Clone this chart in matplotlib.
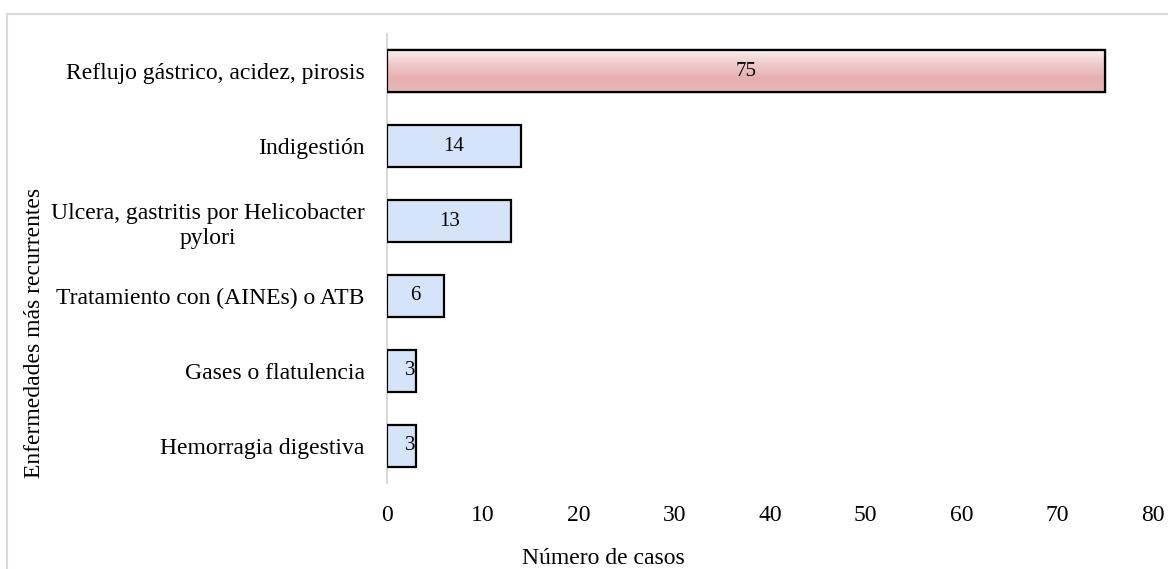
import matplotlib
matplotlib.use("Agg")
import matplotlib.pyplot as plt
import numpy as np
from matplotlib.patches import Rectangle
from matplotlib.colors import LinearSegmentedColormap

categories = ["Reflujo gástrico, acidez, pirosis", "Indigestión",
              "Ulcera, gastritis por Helicobacter\npylori",
              "Tratamiento con (AINEs) o ATB", "Gases o flatulencia",
              "Hemorragia digestiva"]
values = [75, 14, 13, 6, 3, 3]
xticks = [0, 10, 20, 30, 40, 50, 60, 70, 80]

plt.rcParams['font.family'] = ['Liberation Serif', 'DejaVu Serif']

W, H = 1168, 569
fig = plt.figure(figsize=(W/100, H/100), dpi=100)
ax = fig.add_axes([387/W, 1-483/H, (1153-387)/W, (483-34)/H])

n = len(categories)
ypos = np.arange(n)[::-1]
bh = 0.56
colors = ["#e8b4b4"] + ["#d6e4fa"] * (n-1)
bars = ax.barh(ypos, values, height=bh, color=colors, edgecolor="black", linewidth=1.6, zorder=3)

# gradient on the first bar
cmap = LinearSegmentedColormap.from_list("g", ["#f9eeee", "#efcaca", "#e6b0b0", "#e8b6b6"])
grad = np.linspace(0, 1, 100).reshape(-1, 1)
b0 = bars[0]
im = ax.imshow(grad, cmap=cmap, aspect="auto",
               extent=[0, values[0], ypos[0]-bh/2, ypos[0]+bh/2], origin="upper", zorder=3.5)
im.set_clip_path(b0)
ax.add_patch(Rectangle((0, ypos[0]-bh/2), values[0], bh, fill=False, edgecolor="black", linewidth=1.6, zorder=4))

for y, v in zip(ypos, values):
    xt = v/2 if v > 4 else v*0.8
    ax.text(xt, y, str(v), ha="center", va="center", fontsize=15, zorder=5)

ax.set_xlim(0, 80)
ax.set_ylim(-0.5, n-0.5)
ax.set_xticks(xticks)
ax.set_xticklabels([str(t) for t in xticks], fontsize=17)
ax.set_yticks(ypos)
ax.set_yticklabels(categories, fontsize=17, multialignment="center", linespacing=1.25)
ax.tick_params(length=0)
ax.tick_params(axis="y", pad=16)
ax.tick_params(axis="x", pad=16)
for s in ["top", "right", "bottom"]:
    ax.spines[s].set_visible(False)
ax.spines["left"].set_color("#d9d9d9")
ax.spines["left"].set_linewidth(1.5)

fig.text(603/W, 1-559/H, "Número de casos", fontsize=17, ha="center", va="center")
fig.text(35/W, 1-333/H, "Enfermedades más recurrentes", fontsize=17, ha="center", va="center",
         rotation=90)

# figure border (left and top edges visible)
fig.patches.append(Rectangle((7/W, -0.1), 1.2, 1-14/H+0.1, transform=fig.transFigure,
                             fill=False, edgecolor="#d9d9d9", linewidth=1.5))

fig.savefig("out.png", dpi=100)
